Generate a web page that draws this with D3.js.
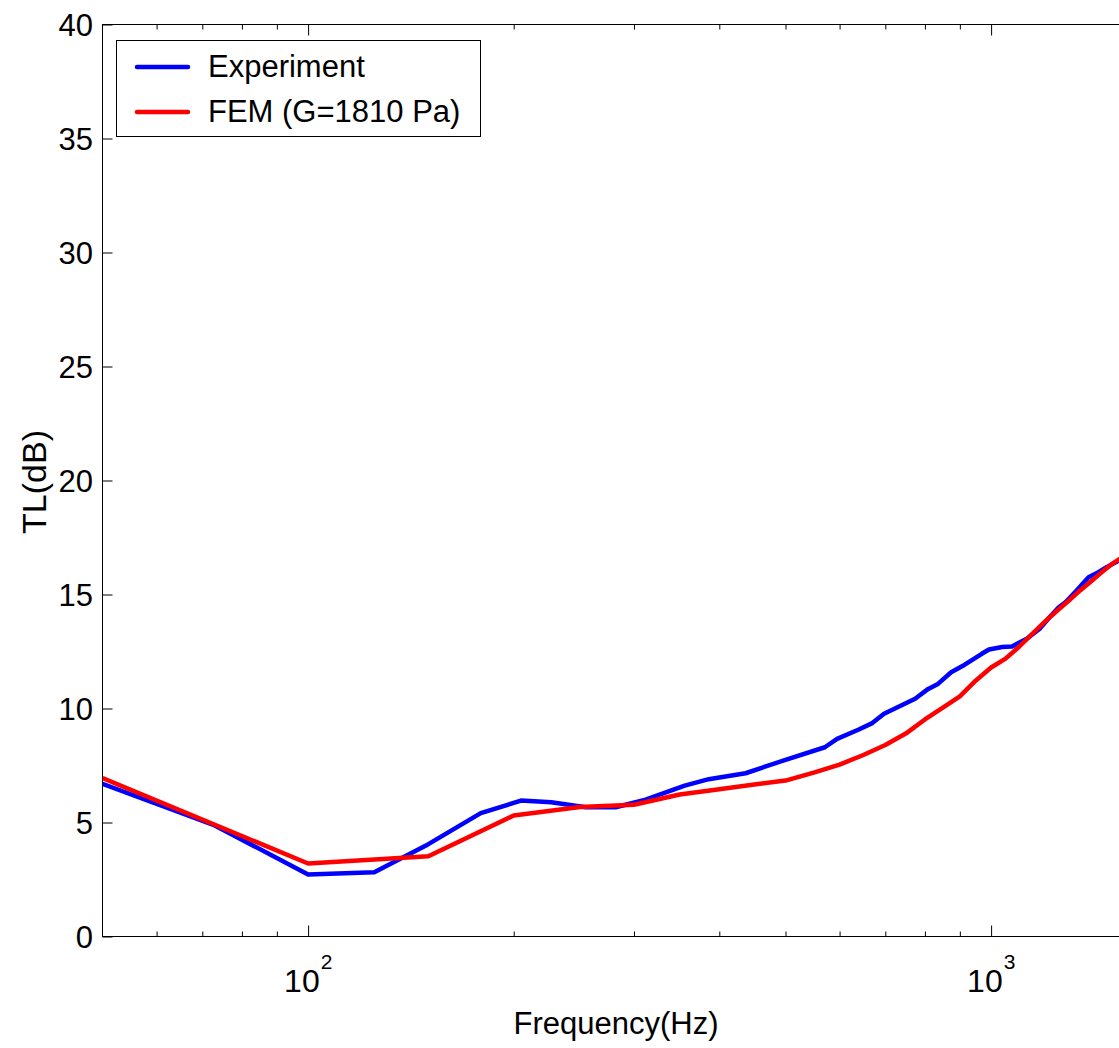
<!DOCTYPE html>
<html>
<head>
<meta charset="utf-8">
<script src="https://cdn.jsdelivr.net/npm/d3@7"></script>
<style>
  body { margin: 0; background: #fff; }
  svg { display: block; }
  text { font-family: "Liberation Sans", Arial, Helvetica, sans-serif; fill: #000; }
</style>
</head>
<body>
<script>
// Measured transmission loss (Experiment)
const expFreq = [50, 73, 100, 125, 150, 179, 205, 227, 255, 282, 312, 356, 386, 437, 500, 571, 595, 639, 670, 697,
                 774, 809, 836, 874, 915, 969, 993, 1038, 1073, 1128, 1178, 1218, 1256, 1285, 1330, 1389, 1436, 1476, 1530, 1560];
const expTL   = [6.70, 4.87, 2.72, 2.82, 4.05, 5.41, 5.96, 5.89, 5.67, 5.67, 6.00, 6.62, 6.90, 7.16, 7.75, 8.30, 8.67, 9.07, 9.36, 9.77,
                 10.43, 10.86, 11.08, 11.59, 11.92, 12.40, 12.59, 12.70, 12.72, 13.06, 13.50, 14.00, 14.44, 14.66, 15.13, 15.76, 15.98, 16.20, 16.45, 16.60];

// Finite element prediction, shear modulus G = 1810 Pa
const femFreq = [50, 100, 150, 200, 250, 300, 350, 400, 450, 500, 550, 600, 650, 700, 750, 800, 850, 900, 950, 1000,
                 1050, 1100, 1150, 1200, 1250, 1300, 1350, 1400, 1450, 1500, 1550, 1600];
const femTL   = [6.95, 3.20, 3.52, 5.31, 5.68, 5.78, 6.23, 6.46, 6.67, 6.84, 7.19, 7.54, 7.96, 8.40, 8.90, 9.52, 10.04, 10.53, 11.23, 11.80,
                 12.19, 12.72, 13.29, 13.82, 14.30, 14.74, 15.18, 15.57, 15.96, 16.32, 16.60, 16.95];

const seriesNames  = ["Experiment", "FEM (G=1810 Pa)"];
const seriesColors = ["#0000ff", "#ff0000"];

const yTicks  = [0, 5, 10, 15, 20, 25, 30, 35, 40];
const xMajor  = [100, 1000];
const xMajorExp = ["2", "3"];
const xMinor  = [60, 70, 80, 90, 200, 300, 400, 500, 600, 700, 800, 900, 2000];

const W = 1119, H = 1048;
const plotLeft = 102.5, plotTop = 24.5, plotBottom = 936.5;
const decade = 683;
const xMin = 50, xMax = 2000;

const svg = d3.select("body").append("svg").attr("width", W).attr("height", H);

const x = d3.scaleLog().domain([xMin, xMax])
  .range([plotLeft, plotLeft + decade * Math.log10(xMax / xMin)]);
const y = d3.scaleLinear().domain([0, 40]).range([plotBottom, plotTop]);
const plotRight = x(xMax);

// clip region for the plotted curves
svg.append("defs").append("clipPath").attr("id", "plotArea")
  .append("rect").attr("x", plotLeft).attr("y", plotTop)
  .attr("width", plotRight - plotLeft).attr("height", plotBottom - plotTop);

// frame
svg.append("rect").attr("x", plotLeft).attr("y", plotTop)
  .attr("width", plotRight - plotLeft).attr("height", plotBottom - plotTop)
  .attr("fill", "none").attr("stroke", "#000").attr("stroke-width", 1);

// y ticks (inward on left and right)
const gy = svg.append("g").attr("transform", `translate(${plotLeft},0)`)
  .call(d3.axisRight(y).tickValues(yTicks).tickSize(10).tickFormat(""));
gy.select(".domain").remove();
const gyr = svg.append("g").attr("transform", `translate(${plotRight},0)`)
  .call(d3.axisLeft(y).tickValues(yTicks).tickSize(10).tickFormat(""));
gyr.select(".domain").remove();

// y tick labels
svg.append("g").selectAll("text").data(yTicks).join("text")
  .attr("x", 93).attr("y", d => y(d)).attr("dy", "0.36em")
  .attr("text-anchor", "end").attr("font-size", 31)
  .text(d => d);

// x ticks, bottom (upward) and top (downward)
function xTicks(vals, len) {
  const gb = svg.append("g").attr("transform", `translate(0,${plotBottom})`)
    .call(d3.axisTop(x).tickValues(vals).tickSize(len).tickFormat(""));
  gb.select(".domain").remove();
  const gt = svg.append("g").attr("transform", `translate(0,${plotTop})`)
    .call(d3.axisBottom(x).tickValues(vals).tickSize(len).tickFormat(""));
  gt.select(".domain").remove();
}
xTicks(xMajor, 11);
xTicks(xMinor, 5);

// x tick labels as powers of ten
const xl = svg.append("g").selectAll("text").data(xMajor).join("text")
  .attr("x", d => x(d) - 24).attr("y", 992).attr("font-size", 32);
xl.append("tspan").text("10");
xl.append("tspan").attr("dy", -23).attr("dx", 1).attr("font-size", 21).text((d, i) => xMajorExp[i]);

// axis titles
svg.append("text").attr("x", 616).attr("y", 1034).attr("text-anchor", "middle")
  .attr("font-size", 31).text("Frequency(Hz)");
svg.append("text").attr("transform", "translate(46,482) rotate(-90)")
  .attr("text-anchor", "middle").attr("font-size", 34).text("TL(dB)");

// curves
const line = d3.line().x(d => x(d[0])).y(d => y(d[1]));
const series = [
  d3.zip(expFreq, expTL),
  d3.zip(femFreq, femTL)
];
svg.append("g").attr("clip-path", "url(#plotArea)")
  .selectAll("path").data(series).join("path")
  .attr("d", line)
  .attr("fill", "none")
  .attr("stroke", (d, i) => seriesColors[i])
  .attr("stroke-width", 4.5)
  .attr("stroke-linejoin", "round");

// legend
const lg = svg.append("g");
lg.append("rect").attr("x", 116.5).attr("y", 40.5).attr("width", 364).attr("height", 96)
  .attr("fill", "#fff").attr("stroke", "#000").attr("stroke-width", 1);
const rows = lg.selectAll("g.row").data(seriesNames).join("g").attr("class", "row")
  .attr("transform", (d, i) => `translate(0,${67 + i * 45})`);
rows.append("line").attr("x1", 137).attr("x2", 188).attr("y1", 0).attr("y2", 0)
  .attr("stroke", (d, i) => seriesColors[i]).attr("stroke-width", 4.5).attr("stroke-linecap", "round");
rows.append("text").attr("x", 208).attr("y", 10).attr("font-size", 31).text(d => d);
</script>
</body>
</html>
